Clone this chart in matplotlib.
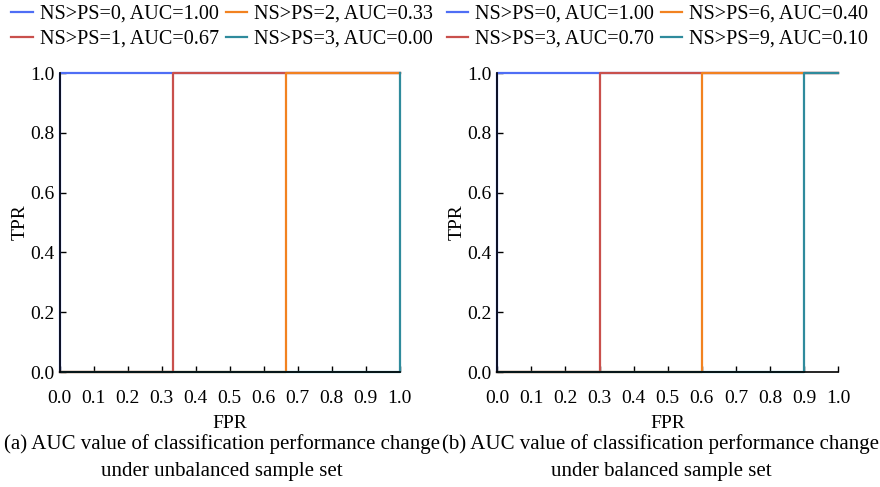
import matplotlib.pyplot as plt

plt.rcParams['font.family'] = ['Liberation Serif', 'DejaVu Serif']
plt.rcParams['font.size'] = 14

# ROC step position (FPR where each curve jumps up) for each case
labels_a = ["NS>PS=0, AUC=1.00", "NS>PS=1, AUC=0.67", "NS>PS=2, AUC=0.33", "NS>PS=3, AUC=0.00"]
steps_a = [0.0, 0.333, 0.667, 1.0]

labels_b = ["NS>PS=0, AUC=1.00", "NS>PS=3, AUC=0.70", "NS>PS=6, AUC=0.40", "NS>PS=9, AUC=0.10"]
steps_b = [0.0, 0.3, 0.6, 0.9]

colors = ["#4f6ef5", "#c9504c", "#f28220", "#2f8b9c"]
ticks_x = [0.0, 0.1, 0.2, 0.3, 0.4, 0.5, 0.6, 0.7, 0.8, 0.9, 1.0]
ticks_y = [0.0, 0.2, 0.4, 0.6, 0.8, 1.0]

fig = plt.figure(figsize=(8.8, 4.87), dpi=100)
ax1 = fig.add_axes([0.068, 0.236, 0.386, 0.614])
ax2 = fig.add_axes([0.565, 0.236, 0.3875, 0.614])


def draw_panel(ax, steps, labels):
    for s, lab, c in zip(steps, labels, colors):
        # step ROC: flat along FPR axis, jump to TPR=1, then flat to the end
        fx = [0.0, s, s, 1.0]
        ty = [0.0, 0.0, 1.0, 1.0]
        ax.plot(fx, ty, color=c, lw=1.6, label=lab, clip_on=False)
    ax.set_xlim(0, 1.0)
    ax.set_ylim(0, 1.0)
    ax.set_xticks(ticks_x)
    ax.set_xticklabels(["%.1f" % t for t in ticks_x])
    ax.set_yticks(ticks_y)
    ax.set_yticklabels(["%.1f" % t for t in ticks_y])
    ax.spines['top'].set_visible(False)
    ax.spines['right'].set_visible(False)
    ax.spines['left'].set_linewidth(1.2)
    ax.spines['bottom'].set_linewidth(1.2)
    ax.tick_params(direction='in', length=4, width=1, labelsize=14)
    ax.tick_params(axis='x', pad=13)
    ax.tick_params(axis='y', pad=4)
    ax.set_xlabel("FPR", fontsize=14, labelpad=6)
    ax.set_ylabel("TPR", fontsize=14, labelpad=1)


draw_panel(ax1, steps_a, labels_a)
draw_panel(ax2, steps_b, labels_b)

for ax, x0 in [(ax1, 0.013), (ax2, 0.508)]:
    ax.legend(loc='lower left', bbox_to_anchor=(x0, 0.9), bbox_transform=fig.transFigure,
              ncol=2, frameon=False, fontsize=14.5, handlelength=1.05, handletextpad=0.35,
              columnspacing=0.35, labelspacing=0.28, borderpad=0, borderaxespad=0)

fig.text(0.252, 0.088, "(a) AUC value of classification performance change", ha='center', va='center', fontsize=15)
fig.text(0.252, 0.031, "under unbalanced sample set", ha='center', va='center', fontsize=15)
fig.text(0.751, 0.088, "(b) AUC value of classification performance change", ha='center', va='center', fontsize=15)
fig.text(0.751, 0.031, "under balanced sample set", ha='center', va='center', fontsize=15)

fig.savefig("out.png", dpi=100)
